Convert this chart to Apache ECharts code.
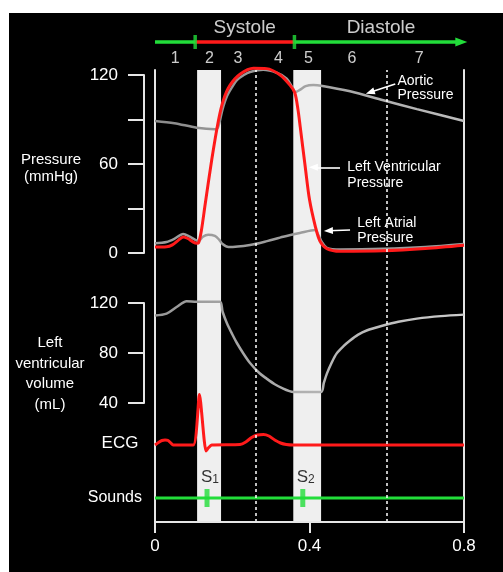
<!DOCTYPE html>
<html><head><meta charset="utf-8">
<script src="https://cdn.jsdelivr.net/npm/echarts@6/dist/echarts.min.js"></script>
<style>
html,body{margin:0;padding:0;background:#fff;}
#bg{position:absolute;left:9px;top:13px;width:494px;height:559px;background:#000;}
#chart{position:absolute;left:0;top:0;width:503px;height:572px;}
</style></head><body>
<div id="bg"></div><div id="chart"></div>
<script>
// ---------- data (time in seconds) ----------
const timeTicks = [0, 0.4, 0.8];
const pressureTicks = [0, 60, 120];
const volumeTicks = [40, 80, 120];

const aorticPressure = [[0,89],[0.05,87.5],[0.108,84.5],[0.155,83.5],[0.163,84.5],[0.175,97],[0.186,105.5],[0.2,112],[0.212,116.5],[0.23,120],[0.246,122],[0.28,123.5],[0.315,121.5],[0.341,117.5],[0.356,111.5],[0.364,108.5],[0.375,110],[0.39,112.5],[0.41,113.2],[0.43,112.8],[0.505,109],[0.591,103],[0.678,97],[0.8,89]];
const ventricularPressure = [[0,4],[0.03,4.2],[0.045,5.5],[0.06,8.5],[0.073,10.8],[0.085,9.8],[0.098,7.5],[0.108,6.5],[0.113,7],[0.12,15],[0.13,33],[0.147,63],[0.164,89],[0.177,103],[0.194,113],[0.22,120.5],[0.255,124.5],[0.289,124.3],[0.324,120],[0.35,113],[0.362,108],[0.37,97],[0.376,85],[0.389,58],[0.4,36],[0.415,18],[0.427,8],[0.445,3],[0.479,1.2],[0.59,1.5],[0.7,3],[0.8,5.2]];
const atrialPressure = [[0,6.5],[0.03,7.4],[0.05,9.5],[0.073,12.8],[0.09,11],[0.1,9.5],[0.113,8],[0.124,11],[0.138,12.3],[0.155,11.5],[0.166,9],[0.175,6],[0.19,4],[0.246,5.4],[0.29,8],[0.332,11],[0.375,13.5],[0.415,15.5],[0.423,12],[0.432,7.5],[0.445,3.5],[0.48,2.4],[0.59,2.8],[0.7,4],[0.8,6]];
const ventricularVolume = [[0,110],[0.03,111.5],[0.056,116.8],[0.082,121.5],[0.108,121],[0.168,121],[0.175,113],[0.186,104],[0.2,95],[0.212,88],[0.23,79],[0.246,72],[0.27,64],[0.289,59.5],[0.31,55],[0.332,51.5],[0.348,49.5],[0.358,48.8],[0.43,48.8],[0.437,56],[0.445,63.5],[0.457,72],[0.47,79.5],[0.488,85.5],[0.505,90],[0.525,94.5],[0.548,98],[0.591,102],[0.63,105],[0.678,107.5],[0.74,109.5],[0.8,110.7]];
const ecg = [[0,0],[0.009,0.05],[0.018,0.09],[0.026,0.1],[0.034,0.09],[0.041,0.04],[0.047,0],[0.099,0],[0.115,1.01],[0.132,-0.12],[0.139,-0.05],[0.147,0],[0.22,0.01],[0.235,0.06],[0.25,0.15],[0.265,0.2],[0.281,0.21],[0.295,0.18],[0.31,0.1],[0.325,0.04],[0.34,0.01],[0.358,0],[0.8,0]];

const bands = [[0.109,0.171],[0.358,0.430]];
const dividers = [0.264, 0.596];
const phaseBoundaries = [0.104, 0.361];
const phaseEnd = 0.793;
const phaseNumbers = ['1','2','3','4','5','6','7'];
const phaseNumberTimes = [0.052,0.141,0.2145,0.3195,0.397,0.5096,0.684];
const phaseNames = ['Systole','Diastole'];
const phaseNameTimes = [0.2324, 0.585];
const sounds = ['S1','S2'];
const soundTimes = [0.1347, 0.3826];
const annotations = [
  {text:'Aortic\nPressure', from:[0.622,113.9], to:[0.557,108.3]},
  {text:'Left Ventricular\nPressure', from:[0.479,57.8], to:[0.410,57.8]},
  {text:'Left Atrial\nPressure', from:[0.505,15.5], to:[0.449,15.0]}
];

// ---------- chart ----------
const FONT = '"Liberation Sans", Arial, Helvetica, sans-serif';
const AX = '#e6e6e6';
const RED = '#ff1a1a';
const GREEN = '#22dd3a';
const hiddenX = gi => ({type:'value', gridIndex:gi, min:0, max:0.8, show:false});
const hiddenY = (gi,mn,mx) => ({type:'value', gridIndex:gi, min:mn, max:mx, show:false});
const frameY = pos => ({type:'value', gridIndex:0, min:0, max:1, position:pos,
  axisLine:{show:true, onZero:false, lineStyle:{color:AX, width:2}},
  axisTick:{show:false}, axisLabel:{show:false}, splitLine:{show:false}});
const valueY = (gi, mn, mx, iv, labels) => ({type:'value', gridIndex:gi, min:mn, max:mx, interval:iv, offset:11,
  axisLine:{show:true, onZero:false, lineStyle:{color:AX, width:2}},
  axisTick:{show:true, length:16, lineStyle:{color:AX, width:2}},
  axisLabel:{color:'#fff', fontSize:17, fontFamily:FONT, margin:26,
    formatter: v => labels.some(l => Math.abs(l - v) < 1e-6) ? String(v) : ''},
  splitLine:{show:false}});
const gray = (a,b) => ({type:'linear', x:0, y:0, x2:1, y2:0, colorStops:[{offset:0,color:a},{offset:1,color:b}]});

const option = {
  animation:false,
  backgroundColor:'transparent',
  textStyle:{fontFamily:FONT},
  grid:[
    {left:155, right:39, top:70, height:452},
    {left:155, right:39, top:75, height:178},
    {left:155, right:39, top:303, height:100},
    {left:155, right:39, top:385, height:70},
    {left:155, right:39, top:480, height:36},
    {left:155, right:39, top:20, height:44}
  ],
  xAxis:[
    {type:'value', gridIndex:0, min:0, max:0.8, interval:0.4, z:10,
     axisLine:{show:true, onZero:false, lineStyle:{color:AX, width:2}},
     axisTick:{show:true, length:11, lineStyle:{color:AX, width:2}},
     axisLabel:{color:'#fff', fontSize:17, fontFamily:FONT, margin:16,
       formatter: v => { const m = timeTicks.find(t => Math.abs(t - v) < 1e-6); return m === undefined ? '' : String(m); }},
     splitLine:{show:false}},
    hiddenX(1), hiddenX(2), hiddenX(3), hiddenX(4), hiddenX(5)
  ],
  yAxis:[
    frameY('left'), frameY('right'),
    valueY(1, 0, 120, 30, pressureTicks),
    valueY(2, 40, 120, 40, volumeTicks),
    hiddenY(3, -0.2, 1.2),
    hiddenY(4, 0, 1),
    hiddenY(5, 0, 1)
  ],
  series:[
    {type:'line', xAxisIndex:0, yAxisIndex:0, data:[[0,0]], showSymbol:false, lineStyle:{width:0}, z:1, silent:true,
     markArea:{silent:true, itemStyle:{color:'#efefef'}, data: bands.map(b => [{xAxis:b[0]},{xAxis:b[1]}])},
     markLine:{silent:true, symbol:['none','none'], label:{show:false}, lineStyle:{color:'#ffffff', type:[3,3], width:1.5},
       data: dividers.map(d => ({xAxis:d}))}},
    {type:'line', name:'Aortic', xAxisIndex:1, yAxisIndex:2, data:aorticPressure, smooth:0.3, symbol:'none', z:3, clip:false,
     lineStyle:{color:gray('#8a8a8a','#bdbdbd'), width:2.5}},
    {type:'line', name:'Atrial', xAxisIndex:1, yAxisIndex:2, data:atrialPressure, smooth:0.3, symbol:'none', z:3, clip:false,
     lineStyle:{color:'#9c9c9c', width:2.5}},
    {type:'line', name:'LV', xAxisIndex:1, yAxisIndex:2, data:ventricularPressure, smooth:0.3, symbol:'none', z:4, clip:false,
     lineStyle:{color:RED, width:3}},
    {type:'line', xAxisIndex:1, yAxisIndex:2, data:[], z:5, silent:true,
     markLine:{silent:true, symbol:['none','triangle'], symbolSize:[7,9], label:{show:false},
       lineStyle:{color:'#ffffff', type:'solid', width:1.6},
       data: annotations.map(a => [{coord:a.from},{coord:a.to}])}},
    {type:'line', name:'Volume', xAxisIndex:2, yAxisIndex:3, data:ventricularVolume, smooth:0.3, symbol:'none', z:3, clip:false,
     lineStyle:{color:gray('#969696','#cccccc'), width:2.5}},
    {type:'line', name:'ECG', xAxisIndex:3, yAxisIndex:4, data:ecg, smooth:0.2, symbol:'none', z:4, clip:false,
     lineStyle:{color:RED, width:3}},
    {type:'line', name:'Sounds', xAxisIndex:4, yAxisIndex:5, data:[[0,0.5],[0.8,0.5]], symbol:'none', z:4,
     lineStyle:{color:GREEN, width:3}},
    {type:'scatter', xAxisIndex:4, yAxisIndex:5, symbol:'rect', symbolSize:[5,18], z:5,
     itemStyle:{color:GREEN},
     data: soundTimes.map((t,i) => ({value:[t,0.5], name:sounds[i]})),
     label:{show:true, position:'top', distance:3, offset:[3,0],
       formatter: p => '{s|' + p.name.charAt(0) + '}{b|' + p.name.slice(1) + '}',
       rich:{s:{fontSize:17, color:'#000', fontFamily:FONT, lineHeight:20, verticalAlign:'bottom'},
             b:{fontSize:12, color:'#000', fontFamily:FONT, lineHeight:20, verticalAlign:'bottom'}}}},
    {type:'line', xAxisIndex:5, yAxisIndex:6, data:[], z:4, silent:true,
     markLine:{silent:true, label:{show:false}, symbol:['none','none'],
       data:[
         [{coord:[0,0.5], lineStyle:{color:GREEN, width:3.5, type:'solid'}},{coord:[phaseBoundaries[0],0.5]}],
         [{coord:[phaseBoundaries[0],0.5], lineStyle:{color:RED, width:3.5, type:'solid'}},{coord:[phaseBoundaries[1],0.5]}],
         [{coord:[phaseBoundaries[1],0.5], lineStyle:{color:GREEN, width:3.5, type:'solid'}, symbol:'none'},
          {coord:[phaseEnd,0.5], symbol:'triangle', symbolSize:[9,12]}]
       ]}},
    {type:'scatter', xAxisIndex:5, yAxisIndex:6, symbol:'rect', symbolSize:[3.5,14], z:5,
     itemStyle:{color:GREEN}, data: phaseBoundaries.map(t => [t,0.5])},
    {type:'scatter', xAxisIndex:5, yAxisIndex:6, symbolSize:0, z:5,
     data: phaseNumbers.map((n,i) => ({value:[phaseNumberTimes[i],0.12], name:n})),
     label:{show:true, position:'inside', color:'#fff', fontSize:16, fontFamily:FONT, formatter:p => p.name}},
    {type:'scatter', xAxisIndex:5, yAxisIndex:6, symbolSize:0, z:5,
     data: phaseNames.map((n,i) => ({value:[phaseNameTimes[i],0.83], name:n})),
     label:{show:true, position:'inside', color:'#fff', fontSize:19, fontFamily:FONT, formatter:p => p.name}}
  ],
  graphic:[
    {type:'text', x:51, y:168.5, style:{text:'Pressure\n(mmHg)', fill:'#fff', fontSize:15, fontFamily:FONT, align:'center', verticalAlign:'middle', lineHeight:17}},
    {type:'text', x:50, y:374, style:{text:'Left\nventricular\nvolume\n(mL)', fill:'#fff', fontSize:15, fontFamily:FONT, align:'center', verticalAlign:'middle', lineHeight:20.7}},
    {type:'text', x:120, y:443, style:{text:'ECG', fill:'#fff', fontSize:17, fontFamily:FONT, align:'center', verticalAlign:'middle'}},
    {type:'text', x:142, y:498, style:{text:'Sounds', fill:'#fff', fontSize:16, fontFamily:FONT, align:'right', verticalAlign:'middle'}},
    {type:'text', x:397.5, y:88, style:{text:annotations[0].text, fill:'#fff', fontSize:14, fontFamily:FONT, align:'left', verticalAlign:'middle', lineHeight:14.5}},
    {type:'text', x:347.3, y:175, style:{text:annotations[1].text, fill:'#fff', fontSize:14, fontFamily:FONT, align:'left', verticalAlign:'middle', lineHeight:15.5}},
    {type:'text', x:357.3, y:230.2, style:{text:annotations[2].text, fill:'#fff', fontSize:14, fontFamily:FONT, align:'left', verticalAlign:'middle', lineHeight:15}}
  ]
};
const chart = echarts.init(document.getElementById('chart'), null, {renderer:'canvas'});
chart.setOption(option);
</script>
</body></html>
